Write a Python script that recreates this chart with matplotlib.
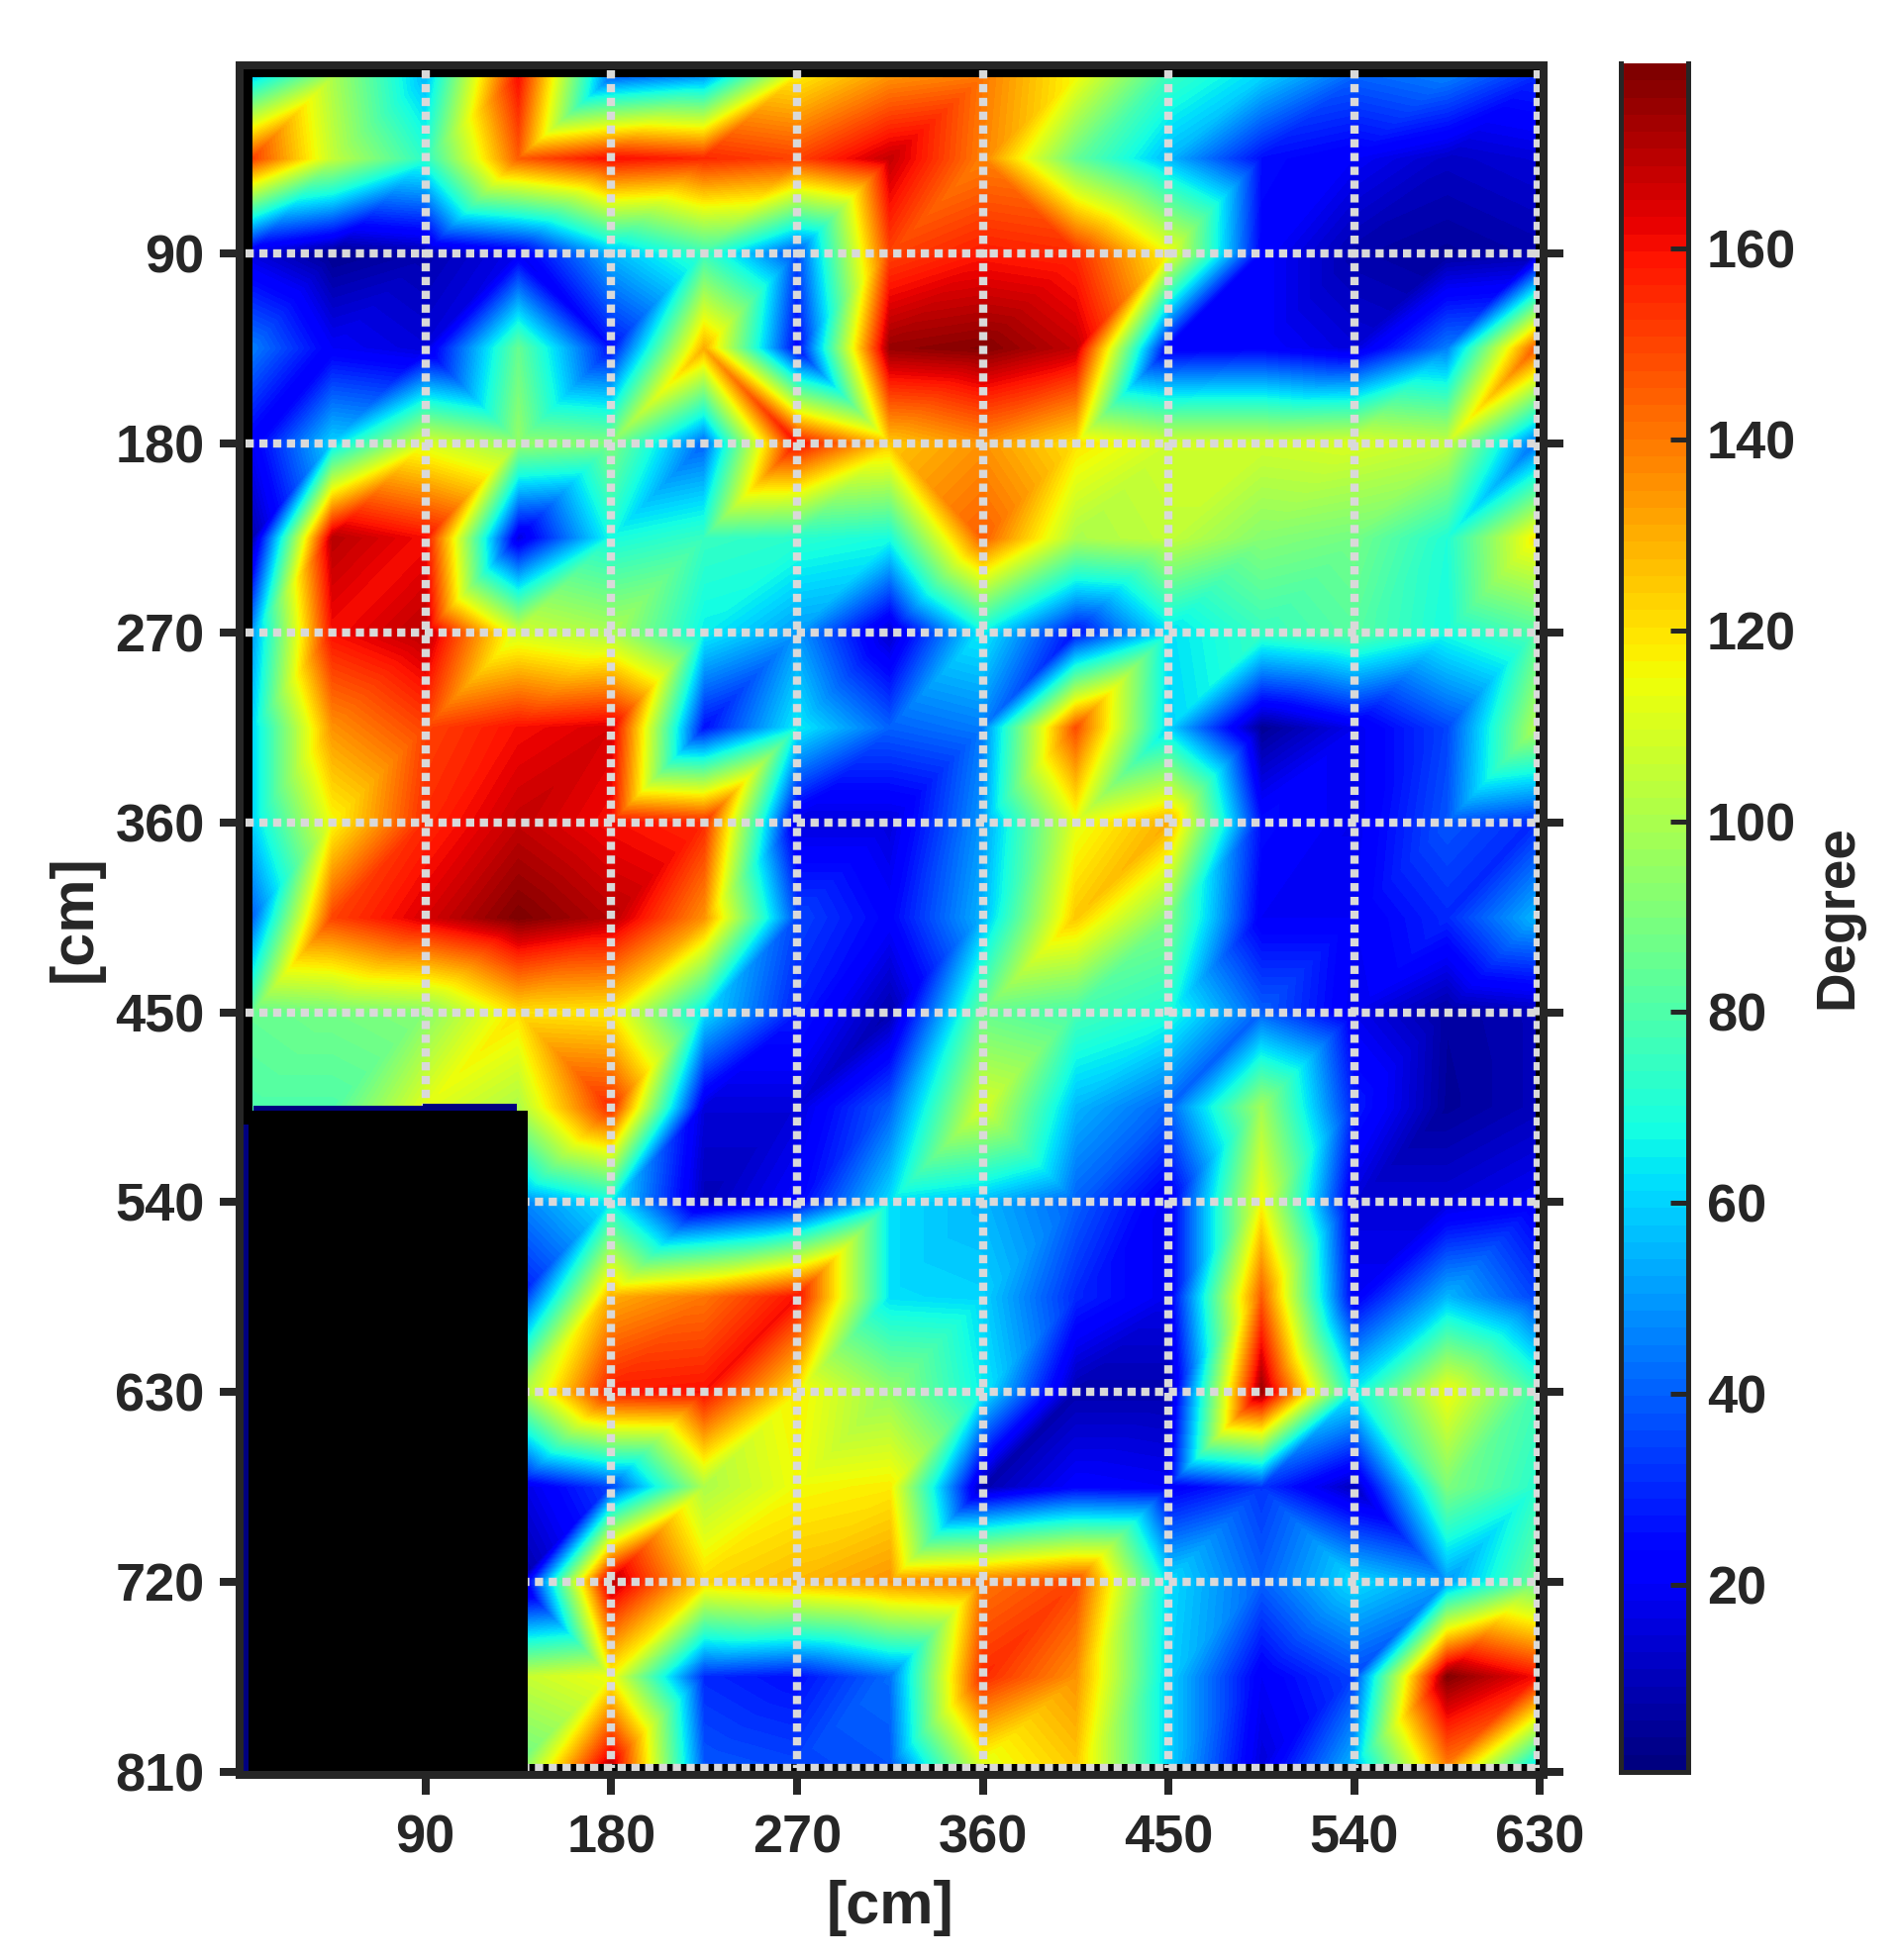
import matplotlib
matplotlib.use("Agg")
import matplotlib.pyplot as plt
import matplotlib.tri as mtri
import numpy as np
from matplotlib.cm import ScalarMappable
from matplotlib.colors import Normalize
from matplotlib.patches import Rectangle

plt.rcParams['font.family'] = ['Liberation Sans', 'DejaVu Sans']
plt.rcParams['font.weight'] = 'bold'

DARK = '#262626'

# measurement points [cm]
grid_x = [6.5, 45, 90, 135, 180, 225, 270, 315, 360, 405, 450, 495, 540, 585, 627.5]
grid_y = [6.5, 45, 90, 135, 180, 225, 270, 315, 360, 405, 450, 495, 540, 585, 630, 675, 720, 765, 806]

# degree values, one list per row
row_006 = [60, 100, 55, 160, 40, 50, 118, 135, 140, 115, 75, 60, 40, 45, 30]
row_045 = [150, 105, 72, 145, 160, 155, 150, 168, 138, 85, 55, 25, 20, 12, 15]
row_090 = [15, 3, 8, 18, 55, 75, 35, 150, 158, 155, 115, 22, 8, 5, 8]
row_135 = [45, 20, 15, 85, 25, 130, 22, 175, 178, 168, 20, 22, 15, 45, 145]
row_180 = [20, 60, 110, 95, 90, 40, 160, 125, 135, 120, 108, 108, 110, 105, 42]
row_225 = [8, 170, 160, 15, 68, 75, 72, 68, 145, 100, 105, 92, 88, 70, 118]
row_270 = [50, 160, 170, 108, 100, 65, 50, 12, 65, 25, 62, 75, 82, 68, 80]
row_315 = [60, 135, 150, 160, 165, 25, 65, 40, 45, 148, 60, 4, 18, 35, 100]
row_360 = [60, 115, 155, 168, 160, 155, 15, 15, 50, 112, 130, 25, 18, 38, 30]
row_405 = [40, 150, 165, 179, 170, 135, 35, 22, 55, 125, 90, 20, 20, 30, 55]
row_450 = [85, 88, 92, 120, 118, 62, 28, 8, 85, 78, 70, 40, 18, 6, 10]
row_495 = [80, 80, 112, 100, 155, 15, 15, 40, 110, 55, 40, 98, 28, 5, 10]
row_540 = [1, 1, 1, 45, 65, 10, 22, 62, 55, 40, 18, 115, 15, 15, 20]
row_585 = [1, 1, 1, 25, 130, 140, 160, 62, 60, 30, 18, 145, 20, 55, 35]
row_630 = [1, 1, 1, 95, 158, 160, 118, 95, 65, 8, 8, 175, 65, 115, 78]
row_675 = [1, 1, 1, 15, 35, 100, 115, 118, 8, 22, 20, 32, 10, 90, 72]
row_720 = [1, 1, 1, 5, 170, 122, 128, 135, 140, 150, 62, 40, 62, 50, 85]
row_765 = [1, 1, 1, 105, 115, 30, 25, 42, 155, 135, 60, 20, 35, 178, 160]
row_806 = [1, 1, 1, 85, 168, 38, 35, 38, 112, 125, 60, 15, 55, 140, 65]

degree = np.array([row_006, row_045, row_090, row_135, row_180, row_225, row_270,
                   row_315, row_360, row_405, row_450, row_495, row_540, row_585,
                   row_630, row_675, row_720, row_765, row_806], dtype=float)

x_ticks = [90, 180, 270, 360, 450, 540, 630]
y_ticks = [90, 180, 270, 360, 450, 540, 630, 720, 810]
cbar_ticks = [20, 40, 60, 80, 100, 120, 140, 160]
cbar_range = (0.4, 179.4)

# dotted lines sit a little inside the last ticks
line_x = [90, 180, 270, 360, 450, 540, 628.8]
line_y = [90, 180, 270, 360, 450, 540, 630, 720, 808.5]

# blocked area of the room
blocked_x = (4.2, 139.4)
blocked_y = (496.6, 811.6)

# (row, col) cells split the other way
back_cells = [(1, 8), (2, 3), (3, 2), (3, 5), (3, 6), (4, 7), (10, 3), (11, 8),
              (14, 12), (15, 11), (15, 12), (16, 3)]

W, H = 1923, 1980
fig = plt.figure(figsize=(W / 100, H / 100), dpi=100)
ax = fig.add_axes([242 / W, 1 - 1793 / H, (1559 - 242) / W, (1793 - 65.7) / H])
ax.set_facecolor('black')

xx, yy = np.meshgrid(grid_x, grid_y)
ncol = len(grid_x)
triangles = []
for r in range(len(grid_y) - 1):
    for c in range(ncol - 1):
        a = r * ncol + c
        b = a + 1
        d = a + ncol
        e = d + 1
        if (r, c) in back_cells:
            triangles += [[a, b, e], [a, e, d]]
        else:
            triangles += [[a, b, d], [b, e, d]]
tri = mtri.Triangulation(xx.ravel(), yy.ravel(), triangles)

cmap = plt.get_cmap('jet', 100)
norm = Normalize(*cbar_range)
levels = np.linspace(cbar_range[0], cbar_range[1], 101)
ax.tricontourf(tri, degree.ravel(), levels=levels, cmap=cmap, norm=norm,
               antialiased=False, zorder=1)

for v in line_x:
    ax.plot([v, v], [3, 808.5], color='#d9d9d9', lw=6, dashes=(1, 0.67),
            dash_capstyle='butt', zorder=2)
for v in line_y:
    ax.plot([3, 629.5], [v, v], color='#d9d9d9', lw=6, dashes=(1, 0.67),
            dash_capstyle='butt', zorder=2)

ax.add_patch(Rectangle((blocked_x[0], blocked_y[0]), blocked_x[1] - blocked_x[0],
                       blocked_y[1] - blocked_y[0], color='black', lw=0, zorder=3))
# thin navy edges around the blocked area
ax.add_patch(Rectangle((6.5, 494.3), 82, 2.4, color='#00007f', lw=0, zorder=3))
ax.add_patch(Rectangle((88.5, 493.2), 46, 3.5, color='#00007f', lw=0, zorder=3))
ax.add_patch(Rectangle((2, 503), 2.2, 308, color='#00007f', lw=0, zorder=3))

ax.set_xlim(0, 631.7)
ax.set_ylim(811.6, 0.7)
ax.set_xticks(x_ticks)
ax.set_yticks(y_ticks)
ax.tick_params(axis='x', direction='out', length=14.4, width=5.76, color=DARK,
               labelcolor=DARK, labelsize=39, pad=14)
ax.tick_params(axis='y', direction='out', length=14.4, width=5.76, color=DARK,
               labelcolor=DARK, labelsize=39, pad=11, right=True)
for s in ax.spines.values():
    s.set_linewidth(5.76)
    s.set_color(DARK)
    s.set_zorder(5)

fig.text(899 / W, 1 - 1928 / H, '[cm]', fontsize=44, color=DARK, ha='center', va='center')
fig.text(76 / W, 1 - 928 / H, '[cm]', fontsize=44, color=DARK, ha='center', va='center',
         rotation=90)

cax = fig.add_axes([1636.5 / W, 1 - 1790 / H, (1705 - 1636.5) / W, (1790 - 64) / H])
cbar = fig.colorbar(ScalarMappable(norm=norm, cmap=cmap), cax=cax)
cbar.set_ticks(cbar_ticks)
cax.tick_params(axis='y', direction='in', length=13, width=3.6, color=DARK,
                labelcolor=DARK, labelsize=39, pad=13.5)
# no line along the top of the bar
cbar.outline.set_visible(False)
for side in ['left', 'right', 'bottom']:
    cax.spines[side].set_visible(True)
    cax.spines[side].set_linewidth(3.6)
    cax.spines[side].set_color(DARK)

fig.text(1856 / W, 1 - 926 / H, 'Degree', fontsize=39.5, color=DARK, ha='center', va='center',
         rotation=90)

fig.savefig('out.png', dpi=100)
